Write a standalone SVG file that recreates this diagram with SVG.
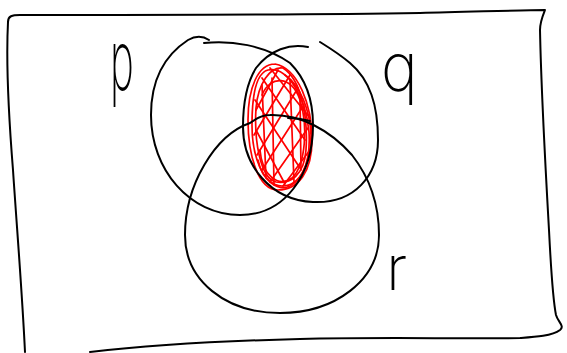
<svg xmlns="http://www.w3.org/2000/svg" width="567" height="353" viewBox="0 0 567 353">
  <style>
    .ink { fill: none; stroke: #000; stroke-width: 2; stroke-linecap: round; stroke-linejoin: round; }
    .red { fill: none; stroke: #ff0000; stroke-width: 1.7; stroke-linecap: round; stroke-linejoin: round; }
    .lbl { font-family: "Inter", "Lato", "DejaVu Sans", sans-serif; font-weight: 200; font-size: 62px; fill: #000; }
  </style>
  <rect width="567" height="353" fill="#fff"/>
  <g id="frame">
    <path class="ink" d="M 8,22 C 8,16 12,15 20,15 C 120,15 300,15 420,13 C 470,12 520,10 545,10 C 543,15 540,22 540,30 C 541,80 545,160 549,230 C 551,270 553,300 556,315 C 558,322 565,326 560,330 C 552,336 535,337 520,338 C 460,339 380,337 300,339 C 220,341 150,345 90,352"/>
    <path class="ink" d="M 8,22 C 6,60 9,120 13,170 C 17,230 22,290 25,352"/>
  </g>
  <g id="shading">
    <path class="red" d="M 275,64 C 298,68 312,105 312,140 C 312,172 298,190 278,190 C 258,190 248,155 248,120 C 248,88 258,64 275,64"/>
    <path class="red" d="M 268,70 C 288,66 306,98 309,132 C 311,165 300,186 282,186 C 262,185 252,155 252,125 C 252,95 256,73 268,70"/>
    <path class="red" d="M 283,68 C 302,80 308,118 306,150 C 304,176 290,184 276,182 C 260,178 254,140 256,108 C 258,84 270,66 283,68"/>
    <path class="red" d="M 262,95 C 270,75 292,75 300,100 C 308,125 306,165 292,178 C 278,188 262,175 260,150"/>
    <path class="red" d="M 258,160 C 262,180 278,192 290,186 C 305,178 311,155 311,135 C 310,110 300,85 285,75"/>
    <path class="red" d="M 256,110 L 278,70 M 254,135 L 290,75 M 257,155 L 298,88 M 262,170 L 304,105 M 270,182 L 308,128 M 283,186 L 310,150"/>
    <path class="red" d="M 262,78 L 305,140 M 255,100 L 300,168 M 256,130 L 285,184 M 270,68 L 310,118"/>
    <path class="red" d="M 262,85 L 266,178 M 272,78 L 274,185 M 290,80 L 294,182 M 300,95 L 301,170"/>
  </g>
  <g id="set-p">
    <path class="ink" d="M 204,43 C 230,40 265,45 290,63 C 305,78 313,100 313,125 C 313,175 285,215 240,215 C 190,215 151,170 151,115 C 151,80 165,55 188,40 C 195,36 203,36 209,40"/>
  </g>
  <g id="set-q">
    <path class="ink" d="M 308,47 C 290,43 270,50 256,68 C 246,84 243,105 243,127 C 243,165 270,200 313,202 C 355,204 378,175 378,140 C 378,105 370,80 350,63 C 338,53 328,47 320,42"/>
  </g>
  <g id="set-r">
    <path class="ink" d="M 250,123 C 258,117 264,115 270,115 C 300,114 330,130 352,155 C 370,178 379,205 379,235 C 379,280 335,313 280,313 C 225,313 185,280 185,235 C 185,185 215,135 250,123"/>
    <path class="ink" d="M 288,118 C 295,118 303,119 310,121"/>
  </g>
  <g id="labels">
    <text class="lbl" transform="translate(110,90) scale(0.65,1.35)">p</text>
    <text class="lbl" transform="translate(381,91) scale(1,1.1)">q</text>
    <text class="lbl" x="386" y="290">r</text>
  </g>
</svg>
